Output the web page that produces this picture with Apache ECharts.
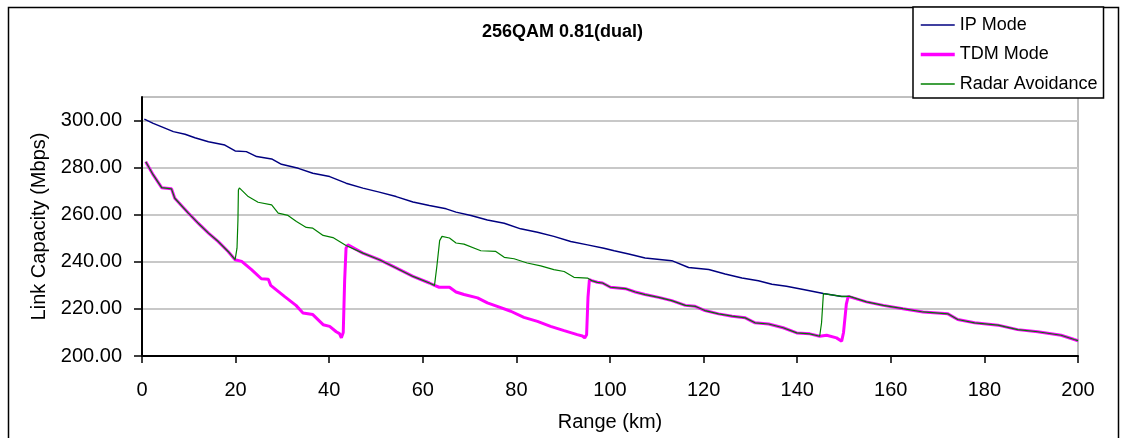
<!DOCTYPE html>
<html>
<head>
<meta charset="utf-8">
<script src="https://cdn.jsdelivr.net/npm/echarts@6/dist/echarts.min.js"></script>
<style>
  html, body { margin: 0; padding: 0; background: #fff; }
  #chart { width: 1123px; height: 438px; }
</style>
</head>
<body>
<div id="chart"></div>
<script>
// [range km, capacity Mbps]
const ipMode = [
  [0.5, 300.6], [2.4, 298.8], [4.5, 297.1], [6.7, 295.3], [9.2, 294.2], [11.3, 292.7],
  [14.2, 291.0], [17.7, 289.6], [19.9, 287.1], [22.3, 286.8], [24.5, 284.7], [27.7, 283.7],
  [29.8, 281.4], [33.4, 279.7], [36.5, 277.6], [40.1, 276.2], [43.6, 273.4], [47.2, 271.3],
  [50.7, 269.6], [54.3, 267.7], [57.9, 265.4], [61.4, 263.9], [65.0, 262.5], [67.1, 261.1],
  [70.3, 259.7], [73.8, 257.8], [77.4, 256.4], [80.9, 254.0], [84.5, 252.6], [88.0, 250.8],
  [91.6, 248.6], [95.2, 247.2], [98.7, 245.8], [100.9, 244.7], [104.0, 243.3], [107.5, 241.6],
  [113.2, 240.5], [116.8, 237.6], [121.1, 236.7], [124.6, 234.8], [128.2, 233.1], [131.7, 232.0],
  [134.6, 230.5], [137.7, 229.6], [141.3, 228.2], [145.6, 226.5], [149.5, 225.3], [151.2, 225.3],
  [154.8, 223.0], [158.4, 221.5], [162.6, 220.1], [166.9, 218.7], [172.2, 217.9], [174.3, 215.5],
  [177.9, 214.1], [182.9, 213.1], [187.1, 211.2], [191.4, 210.3], [196.4, 208.8], [199.2, 207.0],
  [200, 206.5]
];

const tdmMode = [
  [0.8, 282.5], [2.4, 276.9], [4.2, 271.5], [6.3, 271.0], [7.0, 267.0], [9.9, 260.7],
  [12.0, 256.4], [14.2, 252.2], [16.3, 248.6], [18.4, 244.4], [19.9, 240.9], [21.3, 240.2],
  [23.4, 236.7], [25.5, 232.8], [27.0, 232.6], [27.5, 230.0], [30.5, 225.2], [32.9, 221.5],
  [34.4, 218.3], [36.5, 217.6], [38.7, 213.3], [40.1, 212.6], [41.5, 210.3], [42.2, 209.5],
  [42.6, 207.7], [43.0, 210.0], [43.3, 232.0], [43.6, 245.8], [44.0, 247.2], [47.2, 243.7],
  [50.7, 240.9], [54.3, 237.4], [57.9, 233.8], [61.4, 231.0], [62.5, 230.0], [63.5, 229.2],
  [65.7, 229.2], [67.1, 227.2], [68.8, 226.1], [71.7, 224.7], [73.8, 222.6], [75.9, 221.1],
  [78.8, 219.0], [81.6, 216.4], [84.5, 214.7], [87.3, 212.6], [90.2, 210.8], [93.0, 209.1],
  [94.1, 208.5], [94.6, 207.7], [95.0, 209.0], [95.3, 225.0], [95.6, 232.4], [96.1, 232.0],
  [97.3, 231.3], [98.4, 231.0], [100.1, 229.2], [103.3, 228.6], [105.4, 227.2], [107.5, 226.1],
  [110.4, 224.9], [113.2, 223.5], [116.1, 221.5], [118.2, 221.1], [120.3, 219.3], [123.2, 217.9],
  [126.1, 216.9], [128.9, 216.2], [131.0, 214.1], [133.9, 213.6], [137.0, 212.0], [139.9, 209.8],
  [142.7, 209.4], [144.8, 208.4], [146.3, 208.8], [148.4, 207.7], [149.5, 206.3], [149.9, 210.0],
  [150.5, 222.0], [150.9, 225.3], [151.2, 225.3], [154.8, 223.0], [158.4, 221.5], [162.6, 220.1],
  [166.9, 218.7], [172.2, 217.9], [174.3, 215.5], [177.9, 214.1], [182.9, 213.1], [187.1, 211.2],
  [191.4, 210.3], [196.4, 208.8], [199.2, 207.0], [200, 206.5]
];

const radarAvoid = [
  [0.8, 282.5], [2.4, 276.9], [4.2, 271.5], [6.3, 271.0], [7.0, 267.0], [9.9, 260.7],
  [12.0, 256.4], [14.2, 252.2], [16.3, 248.6], [18.4, 244.4], [19.9, 240.9], [20.3, 245.8],
  [20.5, 257.8], [20.6, 270.5], [20.8, 271.4], [22.7, 267.7], [24.8, 265.3], [27.7, 264.2],
  [29.1, 260.7], [31.2, 259.7], [33.0, 257.1], [35.1, 254.6], [36.5, 254.3], [38.7, 251.2],
  [40.8, 250.3], [43.6, 246.9], [44.0, 247.0], [47.2, 243.7], [50.7, 240.9], [54.3, 237.4],
  [57.9, 233.8], [61.4, 231.0], [62.5, 230.0], [63.0, 238.0], [63.6, 249.0], [64.1, 250.8],
  [65.7, 250.1], [67.1, 248.0], [68.8, 247.5], [72.4, 244.7], [75.6, 244.4], [77.4, 241.9],
  [79.5, 241.3], [82.3, 239.5], [85.2, 238.3], [88.0, 236.7], [90.2, 235.9], [92.3, 233.4],
  [95.2, 233.1], [96.1, 232.0], [97.3, 231.3], [98.4, 231.0], [100.1, 229.2], [103.3, 228.6],
  [105.4, 227.2], [107.5, 226.1], [110.4, 224.9], [113.2, 223.5], [116.1, 221.5], [118.2, 221.1],
  [120.3, 219.3], [123.2, 217.9], [126.1, 216.9], [128.9, 216.2], [131.0, 214.1], [133.9, 213.6],
  [137.0, 212.0], [139.9, 209.8], [142.7, 209.4], [144.8, 208.4], [145.2, 214.0], [145.6, 226.5],
  [149.5, 225.3], [151.2, 225.3], [154.8, 223.0], [158.4, 221.5], [162.6, 220.1], [166.9, 218.7],
  [172.2, 217.9], [174.3, 215.5], [177.9, 214.1], [182.9, 213.1], [187.1, 211.2], [191.4, 210.3],
  [196.4, 208.8], [199.2, 207.0], [200, 206.5]
];

const yTicks = [200, 220, 240, 260, 280, 300];

const font = 'Arial, "Liberation Sans", sans-serif';

const chart = echarts.init(document.getElementById('chart'));

chart.setOption({
  animation: false,
  backgroundColor: '#fff',
  title: {
    text: '256QAM 0.81(dual)',
    left: 482,
    top: 23,
    padding: 0,
    textStyle: { fontFamily: font, fontSize: 18, fontWeight: 'bold', color: '#000' }
  },
  graphic: [{
    type: 'rect',
    z: -1,
    shape: { x: 8.5, y: 7.5, width: 1110, height: 440 },
    style: { fill: null, stroke: '#000', lineWidth: 1.5 }
  }],
  legend: {
    orient: 'vertical',
    left: 913,
    top: 7,
    padding: [9, 6, 5, 6],
    itemWidth: 34,
    itemHeight: 14,
    itemGap: 11.5,
    borderColor: '#000',
    borderWidth: 1.5,
    backgroundColor: '#fff',
    itemStyle: { opacity: 0 },
    textStyle: { fontFamily: font, fontSize: 18, color: '#000' },
    data: [
      { name: 'IP Mode', lineStyle: { width: 1.5 } },
      { name: 'TDM Mode', lineStyle: { width: 3.5 } },
      { name: 'Radar Avoidance', lineStyle: { width: 1.5 } }
    ]
  },
  grid: {
    left: 142, top: 97, right: 45, bottom: 82,
    show: true, borderColor: '#808080', borderWidth: 1
  },
  xAxis: {
    type: 'value',
    min: 0, max: 200, interval: 20,
    name: 'Range (km)',
    nameLocation: 'middle',
    nameGap: 56,
    nameTextStyle: { fontFamily: font, fontSize: 20, color: '#000' },
    axisLine: { lineStyle: { color: '#000', width: 2 } },
    axisTick: { show: true, inside: false, length: 7, lineStyle: { color: '#000', width: 1.5 } },
    axisLabel: { margin: 24, fontFamily: font, fontSize: 20, color: '#000' },
    splitLine: { show: false }
  },
  yAxis: {
    type: 'value',
    min: 200, max: 310, interval: 20,
    name: 'Link Capacity (Mbps)',
    nameLocation: 'middle',
    nameRotate: 90,
    nameGap: 92,
    nameTextStyle: { fontFamily: font, fontSize: 20, color: '#000' },
    axisLine: { show: true, lineStyle: { color: '#000', width: 2 } },
    axisTick: { show: true, inside: false, length: 8, customValues: yTicks, lineStyle: { color: '#000', width: 1.5 } },
    axisLabel: {
      margin: 20, fontFamily: font, fontSize: 20, color: '#000',
      customValues: yTicks,
      formatter: v => v.toFixed(2)
    },
    splitLine: { show: true, lineStyle: { color: '#c8c8c8', width: 2 } }
  },
  series: [
    {
      name: 'IP Mode', type: 'line', data: ipMode, symbol: 'none',
      lineStyle: { color: '#000080', width: 1.5 }, itemStyle: { color: '#000080' }
    },
    {
      name: 'TDM Mode', type: 'line', data: tdmMode, symbol: 'none',
      lineStyle: { color: '#ff00ff', width: 3 }, itemStyle: { color: '#ff00ff' }
    },
    {
      name: 'Radar Avoidance', type: 'line', data: radarAvoid, symbol: 'none',
      lineStyle: { color: '#008000', width: 1.2 }, itemStyle: { color: '#008000' }
    }
  ]
});
</script>
</body>
</html>
